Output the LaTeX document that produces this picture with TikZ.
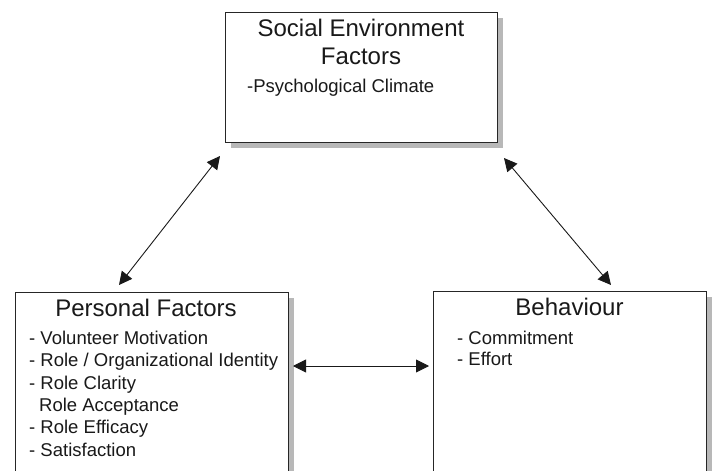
\documentclass[tikz,border=0pt]{standalone}
\usepackage{fontspec}
\setmainfont{Liberation Sans}
\usetikzlibrary{arrows.meta,shadows,calc}
\begin{document}
\begin{tikzpicture}[x=1pt,y=-1pt,
  box/.style={draw=black!85,line width=1pt,fill=white,rectangle,inner sep=0pt,anchor=north west,
    drop shadow={shadow xshift=5pt,shadow yshift=-5pt,fill=black!28,opacity=1}},
  ttl/.style={font=\fontsize{24}{28}\selectfont,inner sep=0pt,anchor=base,text=black!90},
  itm/.style={font=\fontsize{18.5}{22}\selectfont,inner sep=0pt,anchor=base west,text=black!90},
  dbl/.style={{Triangle[length=13pt,width=13pt]}-{Triangle[length=13pt,width=13pt]},line width=0.9pt,draw=black!90}]
\useasboundingbox (0,0) rectangle (715,471);
\clip (0,0) rectangle (715,471);
% boxes
\node[box,minimum width=272pt,minimum height=130pt] (soc) at (225,12) {};
\node[box,minimum width=273pt,minimum height=230pt] (pers) at (15,292) {};
\node[box,minimum width=273pt,minimum height=230pt] (beh) at (433,291) {};
% top box text
\node[ttl] (soct1) at (361,36) {Social Environment};
\node[ttl] (soct2) at (361,64.3) {Factors};
\node[itm] (soci1) at (247,92) {-Psychological Climate};
% personal box text
\node[ttl] (perst) at (146,316) {Personal Factors};
\node[itm] (persi1) at (29,344) {- Volunteer Motivation};
\node[itm] (persi2) at (29,366.5) {- Role / Organizational Identity};
\node[itm] (persi3) at (29,389) {- Role Clarity};
\node[itm] (persi4) at (39,411) {Role Acceptance};
\node[itm] (persi5) at (29,433.5) {- Role Efficacy};
\node[itm] (persi6) at (29,456) {- Satisfaction};
% behaviour box text
\node[ttl] (beht) at (569.5,315.7) {Behaviour};
\node[itm] (behi1) at (457,344) {- Commitment};
\node[itm] (behi2) at (457,365) {- Effort};
% arrow ends
\coordinate (la) at ($(pers.north west)+(104,-7)$);
\coordinate (lb) at ($(soc.south west)+(-5,13)$);
\coordinate (ra) at ($(soc.south east)+(6,15)$);
\coordinate (rb) at ($(beh.north west)+(178,-6)$);
\coordinate (ha) at ($(pers.north east)+(4,74)$);
\coordinate (hb) at ($(beh.north west)+(-4,75)$);
\draw[dbl] (la) -- (lb);
\draw[dbl] (ra) -- (rb);
\draw[dbl] (ha) -- (hb);
\end{tikzpicture}
\end{document}
